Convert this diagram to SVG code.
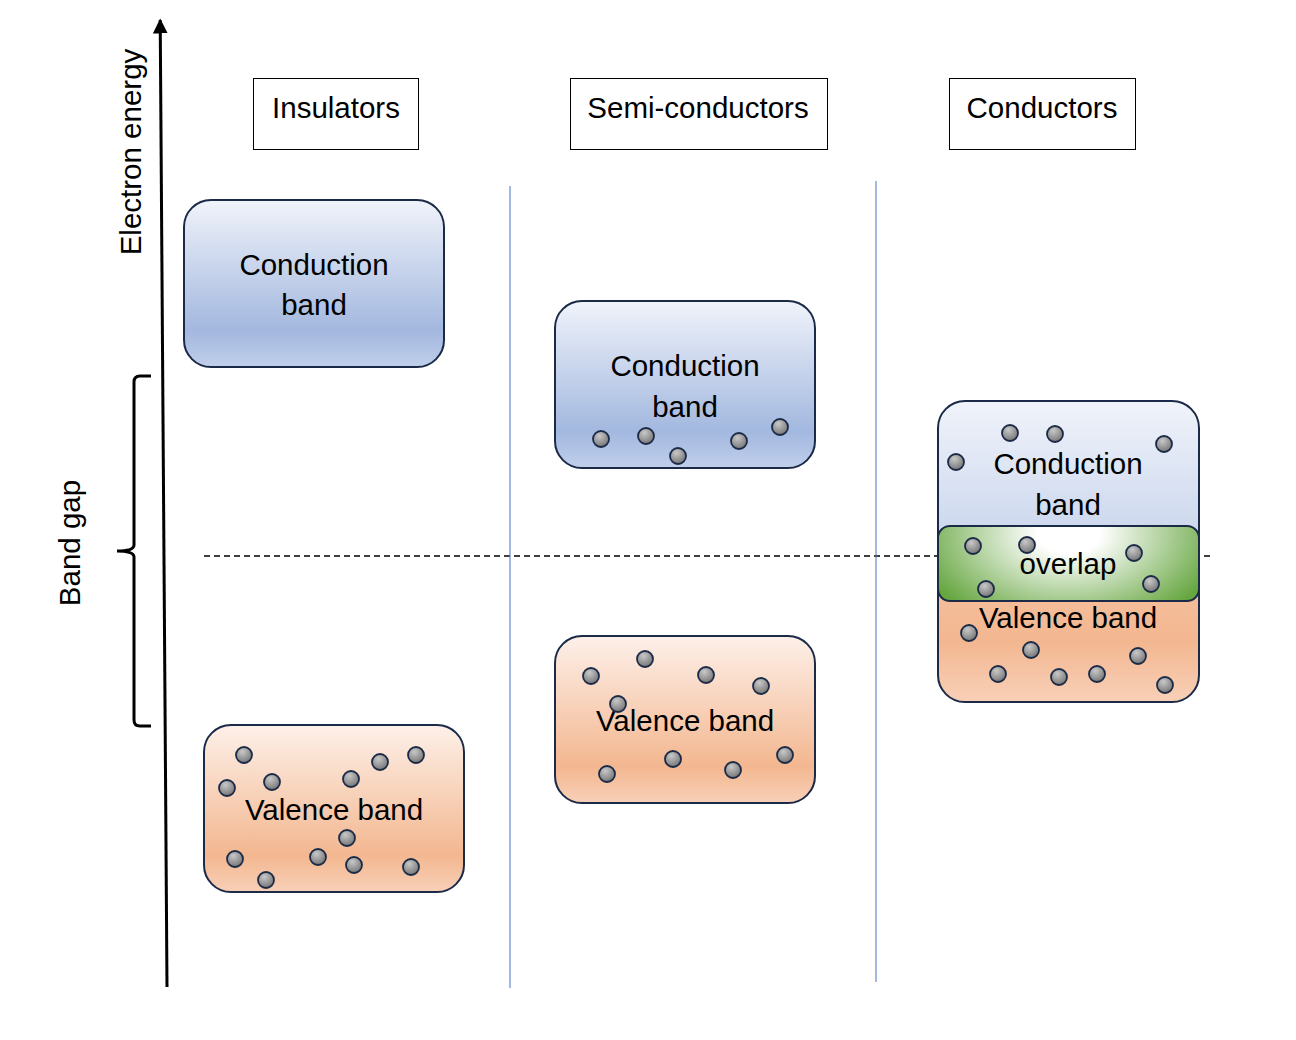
<svg xmlns="http://www.w3.org/2000/svg" width="1296" height="1040" viewBox="0 0 1296 1040">
<style>
text{font-family:"Liberation Sans",Arial,sans-serif;font-size:29.5px;fill:#000}
.t{text-anchor:middle}
.band{stroke:#1B2A47;stroke-width:2}
.e{fill:url(#eg);stroke:#1B2A47;stroke-width:1.8}
.title{fill:#fff;stroke:#000;stroke-width:1}
.sep{stroke:#4472C4;stroke-width:1}
</style>
<defs>
<linearGradient id="blue" x1="0" y1="0" x2="0" y2="1">
<stop offset="0" stop-color="#F0F3FA"/>
<stop offset="0.78" stop-color="#A3B8DF"/>
<stop offset="1" stop-color="#C0CFEB"/>
</linearGradient>
<linearGradient id="orange" x1="0" y1="0" x2="0" y2="1">
<stop offset="0" stop-color="#FDF0E9"/>
<stop offset="0.78" stop-color="#F3B790"/>
<stop offset="1" stop-color="#F8D0B8"/>
</linearGradient>
<linearGradient id="blueC" x1="0" y1="0" x2="0" y2="1">
<stop offset="0" stop-color="#F0F3FA"/>
<stop offset="1" stop-color="#9FB5DE"/>
</linearGradient>
<linearGradient id="orangeC" x1="0" y1="0" x2="0" y2="1">
<stop offset="0" stop-color="#F9D7C3"/>
<stop offset="0.8" stop-color="#F3B790"/>
<stop offset="1" stop-color="#F8D0B8"/>
</linearGradient>
<radialGradient id="green" cx="0.5" cy="0.1" r="0.6" gradientTransform="translate(0.5 0.1) scale(1 2.2) translate(-0.5 -0.1)">
<stop offset="0" stop-color="#FFFFFF"/>
<stop offset="0.2" stop-color="#FFFFFF"/>
<stop offset="1" stop-color="#66A640"/>
</radialGradient>
<radialGradient id="eg" cx="0.4" cy="0.3" r="0.7">
<stop offset="0" stop-color="#C8C8C8"/>
<stop offset="1" stop-color="#777777"/>
</radialGradient>
<clipPath id="topHalf"><rect x="930" y="395" width="280" height="170"/></clipPath>
<clipPath id="botHalf"><rect x="930" y="565" width="280" height="145"/></clipPath>
<marker id="arr" viewBox="0 0 10 10" refX="9" refY="5" markerWidth="5" markerHeight="5" orient="auto"><path d="M0,0 L10,5 L0,10 z" fill="#000"/></marker>
</defs>

<g id="connectors">
<line id="axis" x1="167" y1="987" x2="160.2" y2="20" stroke="#000" stroke-width="3" marker-end="url(#arr)"/>
<path id="bracket" d="M151,376 L140,376 Q134,376 134,382 L134,545 Q134,551 117,551 Q134,551 134,557 L134,720 Q134,726 140,726 L151,726" fill="none" stroke="#000" stroke-width="3"/>
<line id="fermi" x1="204" y1="556" x2="1214" y2="556" stroke="#000" stroke-width="1.5" stroke-dasharray="6,4"/>
<line class="sep" x1="510" y1="186" x2="510" y2="988"/>
<line class="sep" x1="876" y1="181" x2="876" y2="982"/>
</g>

<g id="axis-label"><text class="t" transform="translate(141,152) rotate(-90)">Electron energy</text></g>
<g id="bandgap-label"><text class="t" transform="translate(80,543) rotate(-90)">Band gap</text></g>

<g id="title-insulators"><rect class="title" x="253.5" y="78.5" width="165" height="71"/><text class="t" x="336" y="118">Insulators</text></g>
<g id="title-semiconductors"><rect class="title" x="570.5" y="78.5" width="257" height="71"/><text class="t" x="698" y="118">Semi-conductors</text></g>
<g id="title-conductors"><rect class="title" x="949.5" y="78.5" width="186" height="71"/><text class="t" x="1042" y="118">Conductors</text></g>

<g id="ins-conduction">
<rect class="band" x="184" y="200" width="260" height="167" rx="27" fill="url(#blue)"/>
<text class="t" x="314" y="275">Conduction</text>
<text class="t" x="314" y="315">band</text>
</g>

<g id="ins-valence">
<rect class="band" x="204" y="725" width="260" height="167" rx="27" fill="url(#orange)"/>
<text class="t" x="334" y="820">Valence band</text>
<circle class="e" cx="244" cy="755" r="8"/><circle class="e" cx="272" cy="782" r="8"/><circle class="e" cx="227" cy="788" r="8"/>
<circle class="e" cx="351" cy="779" r="8"/><circle class="e" cx="380" cy="762" r="8"/><circle class="e" cx="416" cy="755" r="8"/>
<circle class="e" cx="235" cy="859" r="8"/><circle class="e" cx="266" cy="880" r="8"/><circle class="e" cx="318" cy="857" r="8"/>
<circle class="e" cx="347" cy="838" r="8"/><circle class="e" cx="354" cy="865" r="8"/><circle class="e" cx="411" cy="867" r="8"/>
</g>

<g id="semi-conduction">
<rect class="band" x="555" y="301" width="260" height="167" rx="27" fill="url(#blue)"/>
<text class="t" x="685" y="376">Conduction</text>
<text class="t" x="685" y="417">band</text>
<circle class="e" cx="601" cy="439" r="8"/><circle class="e" cx="646" cy="436" r="8"/><circle class="e" cx="678" cy="456" r="8"/>
<circle class="e" cx="739" cy="441" r="8"/><circle class="e" cx="780" cy="427" r="8"/>
</g>

<g id="semi-valence">
<rect class="band" x="555" y="636" width="260" height="167" rx="27" fill="url(#orange)"/>
<text class="t" x="685" y="731">Valence band</text>
<circle class="e" cx="591" cy="676" r="8"/><circle class="e" cx="645" cy="659" r="8"/><circle class="e" cx="706" cy="675" r="8"/>
<circle class="e" cx="761" cy="686" r="8"/><circle class="e" cx="618" cy="704" r="8"/><circle class="e" cx="607" cy="774" r="8"/>
<circle class="e" cx="673" cy="759" r="8"/><circle class="e" cx="733" cy="770" r="8"/><circle class="e" cx="785" cy="755" r="8"/>
</g>

<g id="cond-bands">
<rect x="938" y="401" width="261" height="301" rx="27" fill="url(#blueC)" clip-path="url(#topHalf)"/>
<rect x="938" y="401" width="261" height="301" rx="27" fill="url(#orangeC)" clip-path="url(#botHalf)"/>
<rect class="band" x="938" y="401" width="261" height="301" rx="27" fill="none"/>
<text class="t" x="1068" y="474">Conduction</text>
<text class="t" x="1068" y="515">band</text>
<text class="t" x="1068" y="628">Valence band</text>
<circle class="e" cx="1010" cy="433" r="8"/><circle class="e" cx="1055" cy="434" r="8"/><circle class="e" cx="1164" cy="444" r="8"/>
<circle class="e" cx="956" cy="462" r="8"/>
<circle class="e" cx="969" cy="633" r="8"/><circle class="e" cx="1031" cy="650" r="8"/><circle class="e" cx="998" cy="674" r="8"/>
<circle class="e" cx="1059" cy="677" r="8"/><circle class="e" cx="1097" cy="674" r="8"/><circle class="e" cx="1138" cy="656" r="8"/>
<circle class="e" cx="1165" cy="685" r="8"/>
</g>

<g id="cond-overlap">
<rect class="band" x="938" y="526" width="261" height="75" rx="12" fill="url(#green)"/>
<text class="t" x="1068" y="574">overlap</text>
<circle class="e" cx="973" cy="546" r="8"/><circle class="e" cx="1027" cy="545" r="8"/><circle class="e" cx="1134" cy="553" r="8"/>
<circle class="e" cx="986" cy="589" r="8"/><circle class="e" cx="1151" cy="584" r="8"/>
</g>
</svg>
